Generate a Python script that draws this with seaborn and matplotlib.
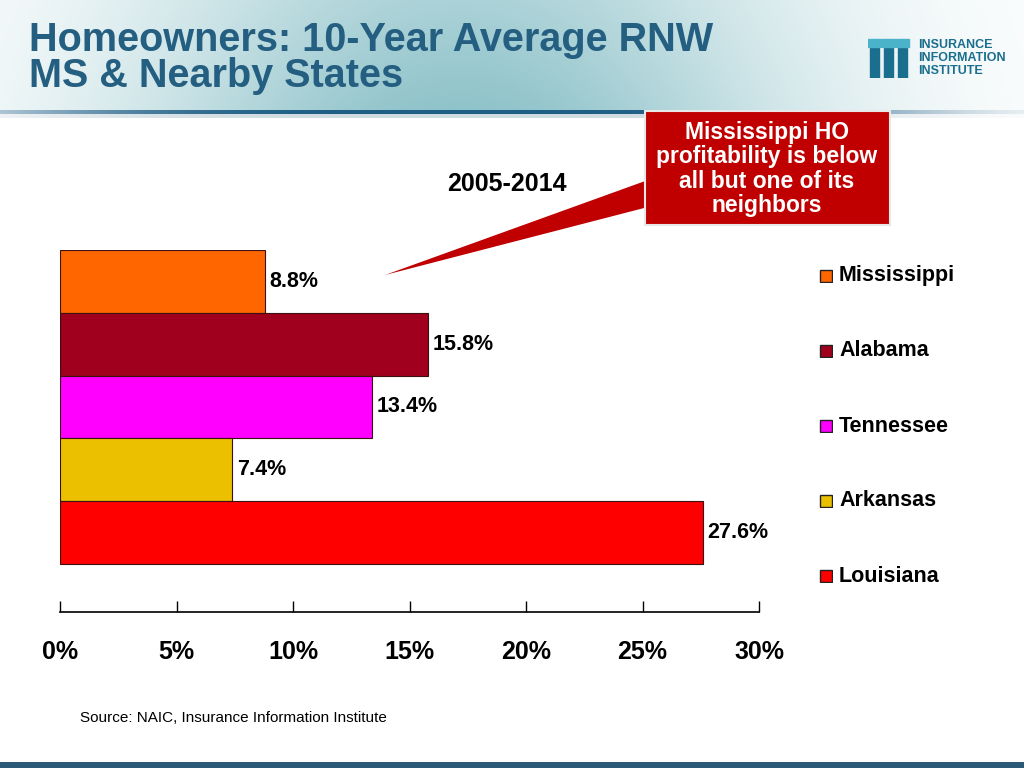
import numpy as np
import pandas as pd
import matplotlib
matplotlib.use("Agg")
import matplotlib.pyplot as plt
from matplotlib.patches import Rectangle, Polygon
from matplotlib.colors import LinearSegmentedColormap
import seaborn as sns

# ---- data ----
states = ["Mississippi", "Alabama", "Tennessee", "Arkansas", "Louisiana"]
rnw = [8.8, 15.8, 13.4, 7.4, 27.6]
colors = ["#FF6600", "#A0001E", "#FF00FF", "#EBC000", "#FF0000"]
tick_vals = [0, 5, 10, 15, 20, 25, 30]
tick_labels = ["0%", "5%", "10%", "15%", "20%", "25%", "30%"]
title_lines = ["Homeowners: 10-Year Average RNW", "MS & Nearby States"]
period = "2005-2014"
callout = "Mississippi HO\nprofitability is below\nall but one of its\nneighbors"
source = "Source: NAIC, Insurance Information Institute"

sns.set_theme(style="white")
plt.rcParams["font.family"] = ["Liberation Sans", "DejaVu Sans"]
plt.rcParams["text.color"] = "black"
plt.rcParams["xtick.color"] = "black"
NARROW = ["Liberation Sans Narrow", "Liberation Sans", "DejaVu Sans"]

W, H = 1024, 768
fig = plt.figure(figsize=(W / 100, H / 100), dpi=100)
fig.patch.set_facecolor("white")

def fx(px):
    return px / W

def fy(py):
    return 1 - py / H

# ---- header background ----
HH = 118
bg = fig.add_axes([0, fy(HH), 1, HH / H], zorder=0)
bg.set_axis_off()
xs = np.linspace(0, 1, 400)
prof = np.exp(-((xs - 0.45) / 0.33) ** 2)
ys = np.linspace(0, 1, 60)[:, None]
vert = 0.75 + 0.25 * ys
img = prof[None, :] * vert
cmap = LinearSegmentedColormap.from_list("hdr", ["#FFFFFF", "#8FC3CA"])
bg.imshow(img, cmap=cmap, aspect="auto", extent=[0, 1, 6 / HH, 1], vmin=0, vmax=1)
bg.set_xlim(0, 1)
bg.set_ylim(0, 1)
# dark line
line_prof = np.exp(-((xs - 0.45) / 0.45) ** 4)
cmap2 = LinearSegmentedColormap.from_list("ln", ["#FFFFFF", "#1F5F86"])
bg.imshow(line_prof[None, :], cmap=cmap2, aspect="auto",
          extent=[0, 1, 4 / HH, 8 / HH], vmin=0, vmax=1)
shadow = 0.35 * line_prof[None, :]
bg.imshow(shadow, cmap=LinearSegmentedColormap.from_list("sh", ["#FFFFFF", "#7A9AAA"]),
          aspect="auto", extent=[0, 1, 0, 4 / HH], vmin=0, vmax=1)

fig.text(fx(29), fy(40), title_lines[0], fontsize=28.5, fontweight="bold",
         color="#245E80", va="center", ha="left", zorder=5)
fig.text(fx(29), fy(76), title_lines[1], fontsize=28.5, fontweight="bold",
         color="#245E80", va="center", ha="left", zorder=5)

# logo
lg = fig.add_axes([fx(868), fy(78), fx(44), 40 / H], zorder=5)
lg.set_axis_off()
for i in range(3):
    lg.add_patch(Rectangle((0.05 + i * 0.32, 0.0), 0.2, 0.75, color="#1A6E8E"))
    lg.add_patch(Rectangle((0.0 + i * 0.32, 0.78), 0.3, 0.2, color="#4AB3C9"))
lg.set_xlim(0, 1)
lg.set_ylim(0, 1)
for k, t in enumerate(["INSURANCE", "INFORMATION", "INSTITUTE"]):
    fig.text(fx(918), fy(45 + k * 13), t, fontsize=9, fontweight="bold",
             color="#1A6E8E", va="center", ha="left", zorder=5)

# bottom band
band = fig.add_axes([0, 0, 1, 6 / H], zorder=5)
band.set_axis_off()
band.add_patch(Rectangle((0, 0), 1, 1, color="#2A5A78"))
band.set_xlim(0, 1)
band.set_ylim(0, 1)

# ---- main chart ----
df = pd.DataFrame({"state": states, "rnw": rnw})
ax = fig.add_axes([fx(60), fy(612), fx(759 - 60), (612 - 250) / H], zorder=2)
sns.barplot(data=df, x="rnw", y="state", hue="state", palette=colors,
            order=states, hue_order=states, orient="h", width=1.0,
            dodge=False, legend=False, ax=ax, edgecolor="#3A1010",
            linewidth=0.8, saturation=1)
ax.set_xlim(0, 30)
ax.set_ylim(4.5 + 48 / 62.8, -0.5)
ax.set_facecolor("none")
for s in ["top", "right", "left"]:
    ax.spines[s].set_visible(False)
ax.spines["bottom"].set_color("black")
ax.spines["bottom"].set_linewidth(1.2)
ax.set_yticks([])
ax.set_ylabel("")
ax.set_xlabel("")
ax.set_xticks(tick_vals)
ax.set_xticklabels(tick_labels)
ax.tick_params(axis="x", direction="in", length=8, width=1, color="black",
               bottom=True, pad=20, labelsize=18, labelcolor="black")
for lab in ax.get_xticklabels():
    lab.set_fontweight("bold")
    lab.set_family(NARROW)

for i, v in enumerate(rnw):
    ax.text(v + 0.2, i, f"{v:.1f}%", va="center", ha="left", fontsize=15.5,
            fontweight="bold", color="black")

# legend
for i, (s, c) in enumerate(zip(states, colors)):
    yy = 276 + i * 75
    sq = fig.add_axes([fx(819), fy(yy + 7), fx(14), 14 / H], zorder=5)
    sq.set_axis_off()
    sq.add_patch(Rectangle((0, 0), 1, 1, facecolor=c, edgecolor="#222222", linewidth=1))
    sq.set_xlim(-0.05, 1.05)
    sq.set_ylim(-0.05, 1.05)
    fig.text(fx(839), fy(yy), s, fontsize=15.5, fontweight="bold", va="center",
             ha="left", color="black")

# period label
fig.text(fx(507), fy(184), period, fontsize=18, fontweight="bold", va="center",
         ha="center", color="black")

# callout
ov = fig.add_axes([0, 0, 1, 1], zorder=4)
ov.set_axis_off()
ov.set_xlim(0, W)
ov.set_ylim(H, 0)
ov.add_patch(Polygon([[648, 180], [648, 207], [385, 275]], closed=True,
                     facecolor="#C00000", edgecolor="none"))
ov.add_patch(Rectangle((645, 111), 245, 114, facecolor="#C00000",
                       edgecolor="#E8E8E8", linewidth=1.5))
ov.text(767, 169, callout, color="white", fontsize=16.5, fontweight="bold",
        ha="center", va="center", linespacing=1.08)

fig.text(fx(80), fy(718), source, fontsize=11, family=NARROW, va="center",
         ha="left", color="black")

fig.savefig("out.png", dpi=100)
